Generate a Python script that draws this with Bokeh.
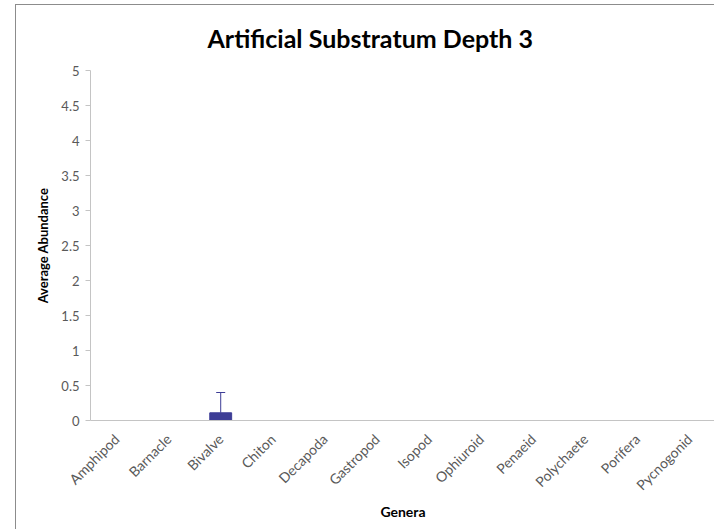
import math
from bokeh.plotting import figure
from bokeh.models import (FactorRange, Range1d, FixedTicker, CustomJSTickFormatter,
                          ColumnDataSource, Whisker)
from bokeh.embed import file_html
from bokeh.resources import INLINE

# ---- data ----
genera = ["Amphipod", "Barnacle", "Bivalve", "Chiton", "Decapoda", "Gastropod",
          "Isopod", "Ophiuroid", "Penaeid", "Polychaete", "Porifera", "Pycnogonid"]
abundance = [0, 0, 0.11, 0, 0, 0, 0, 0, 0, 0, 0, 0]
error = [0, 0, 0.29, 0, 0, 0, 0, 0, 0, 0, 0, 0]
y_ticks = [0, 0.5, 1, 1.5, 2, 2.5, 3, 3.5, 4, 4.5, 5]

title_text = "Artificial Substratum Depth 3"
x_title = "Genera"
y_title = "Average Abundance"

FONT = "Lato"
BAR = "#3d3d96"
AXIS = "#c4c4c4"
LBL = "#595959"

W, H = 699, 525
ML, MT, MB = 74, 65, 110

src = ColumnDataSource(dict(
    g=genera, v=abundance,
    upper=[a + e for a, e in zip(abundance, error)],
))

p = figure(width=W, height=H, output_backend="svg", toolbar_location=None,
           x_range=FactorRange(*genera, range_padding=0),
           y_range=Range1d(0, 5),
           title=title_text,
           min_border_left=ML, min_border_right=0,
           min_border_top=MT, min_border_bottom=MB)
p.styles = {"margin-left": "15px", "margin-top": "4px",
            "border-left": "1px solid #8c8c8c",
            "border-top": "1px solid #8c8c8c"}
p.background_fill_color = "white"
p.border_fill_color = "white"
p.outline_line_color = None
p.xgrid.visible = False
p.ygrid.visible = False

p.title.text_font = FONT
p.title.text_font_size = "25px"
p.title.text_font_style = "bold"
p.title.text_color = "black"
p.title.align = "left"
p.title.offset = 117
p.title.standoff = 32
p.title.vertical_align = "top"

p.vbar(x="g", top="v", width=0.42, source=src, fill_color=BAR, line_color=BAR)
w = Whisker(base="g", upper="upper", lower="v", source=src, line_color=BAR,
            line_width=1, lower_head=None)
w.upper_head.line_color = BAR
w.upper_head.size = 9
p.add_layout(w)

# y axis
p.yaxis.ticker = FixedTicker(ticks=y_ticks)
p.yaxis.formatter = CustomJSTickFormatter(code="return String(Math.round(tick*10)/10);")
p.yaxis.axis_line_color = AXIS
p.yaxis.major_tick_line_color = AXIS
p.yaxis.major_tick_out = 5
p.yaxis.major_tick_in = 0
p.yaxis.minor_tick_line_color = None
p.yaxis.major_label_text_font = FONT
p.yaxis.major_label_text_font_size = "13px"
p.yaxis.major_label_text_color = LBL
p.yaxis.major_label_standoff = 6
p.yaxis.axis_label = y_title
p.yaxis.axis_label_text_font = FONT
p.yaxis.axis_label_text_font_size = "13px"
p.yaxis.axis_label_text_font_style = "bold"
p.yaxis.axis_label_text_color = "black"
p.yaxis.axis_label_standoff = 7

# x axis
p.xaxis.axis_line_color = AXIS
p.xaxis.major_tick_line_color = None
p.xaxis.minor_tick_line_color = None
p.xaxis.major_label_orientation = math.pi / 4
p.xaxis.major_label_text_font = FONT
p.xaxis.major_label_text_font_size = "14px"
p.xaxis.major_label_text_color = LBL
p.xaxis.major_label_standoff = 10
p.xaxis.axis_label = x_title
p.xaxis.axis_label_text_font = FONT
p.xaxis.axis_label_text_font_size = "14px"
p.xaxis.axis_label_text_font_style = "bold"
p.xaxis.axis_label_text_color = "black"
p.xaxis.axis_label_standoff = 1

open("out.html", "w").write(file_html(p, INLINE))
